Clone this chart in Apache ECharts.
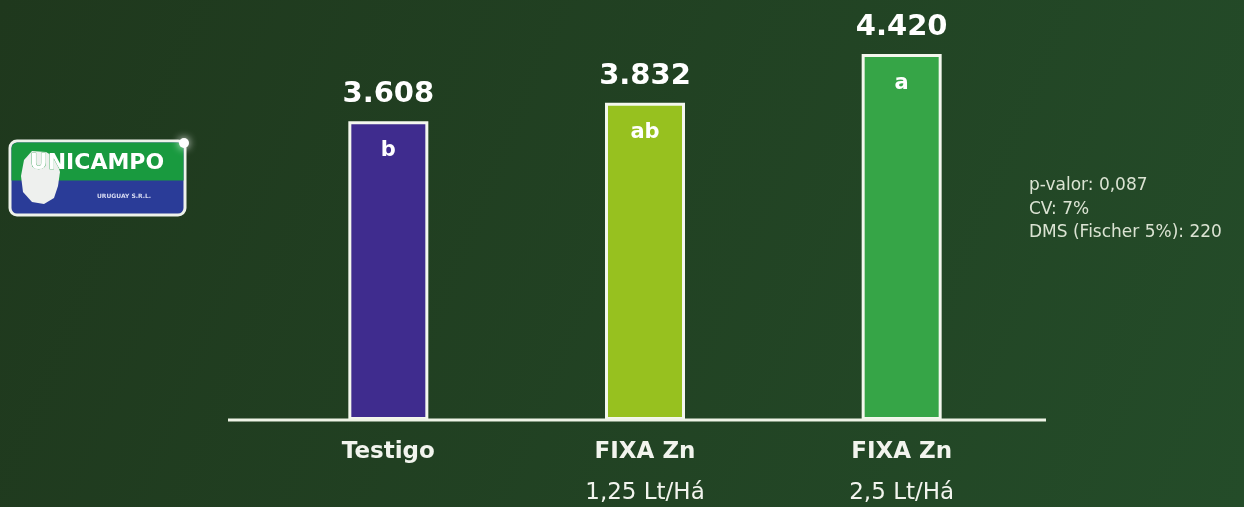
<!DOCTYPE html>
<html><head><meta charset="utf-8">
<script src="https://cdn.jsdelivr.net/npm/echarts@6/dist/echarts.min.js"></script>
<style>html,body{margin:0;padding:0;background:#1f3b1f;}#c{width:1244px;height:507px;}</style>
</head><body><div id="c"></div>
<script>
const categories = ['Testigo', 'FIXA Zn\n1,25 Lt/Há', 'FIXA Zn\n2,5 Lt/Há'];
const yields = [3608, 3832, 4420];
const letters = ['b', 'ab', 'a'];
const barColors = ['#3f2c8e', '#97c11f', '#36a547'];
const stats = ['p-valor: 0,087', 'CV: 7%', 'DMS (Fischer 5%): 220'];

const fmt = v => { const s = String(v); return s.length > 3 ? s.slice(0, s.length - 3) + '.' + s.slice(-3) : s; };
const chart = echarts.init(document.getElementById('c'), null, {renderer: 'canvas'});
chart.setOption({
  backgroundColor: {
    type: 'linear', x: 0, y: 0, x2: 1, y2: 1,
    colorStops: [{offset: 0, color: '#1f381d'}, {offset: 1, color: '#244c29'}]
  },
  animation: false,
  grid: {left: 260, right: 214, top: 6, bottom: 87, containLabel: false, outerBoundsMode: 'none'},
  xAxis: {
    type: 'category', data: categories,
    axisLine: {show: false}, axisTick: {show: false},
    axisLabel: {
      color: '#f2f4ee', fontFamily: 'DejaVu Sans', fontSize: 23, lineHeight: 41, margin: 12,
      formatter: v => { const p = v.split('\n'); return p.length > 1 ? '{b|' + p[0] + '}\n{n|' + p[1] + '}' : '{b|' + p[0] + '}'; },
      rich: {
        b: {fontFamily: 'DejaVu Sans', fontWeight: 'bold', fontSize: 23, color: '#f2f4ee', lineHeight: 41},
        n: {fontFamily: 'DejaVu Sans', fontWeight: 'normal', fontSize: 23, color: '#f2f4ee', lineHeight: 41}
      }
    }
  },
  yAxis: {type: 'value', min: 0, max: 5000, show: false, splitLine: {show: false}},
  series: [
    {
      type: 'bar', barWidth: 80,
      data: yields.map((v, i) => ({value: v, itemStyle: {color: barColors[i]}})),
      itemStyle: {borderColor: '#f4f7ee', borderWidth: 3},
      label: {
        show: true, position: 'top', distance: 12,
        color: '#ffffff', fontFamily: 'DejaVu Sans', fontWeight: 'bold', fontSize: 29,
        formatter: p => fmt(p.value)
      }
    },
    {
      type: 'bar', barWidth: 80, barGap: '-100%', z: 3,
      data: yields,
      itemStyle: {color: 'transparent'},
      label: {
        show: true, position: 'insideTop', distance: 19,
        color: '#ffffff', fontFamily: 'DejaVu Sans', fontWeight: 'bold', fontSize: 21,
        formatter: p => letters[p.dataIndex]
      },
      silent: true
    }
  ],
  graphic: [
    {type: 'rect', shape: {x: 228, y: 418.5, width: 818, height: 3}, style: {fill: '#eef3e6'}, z: 10},
    {type: 'rect', shape: {x: 10, y: 141, width: 175, height: 74, r: 7}, style: {fill: '#2a3c98', stroke: '#eef2ea', lineWidth: 3}, z: 1},
    {type: 'rect', shape: {x: 11.5, y: 142.5, width: 172, height: 38, r: [6, 6, 0, 0]}, style: {fill: '#199a3f'}, z: 2},
    {type: 'polygon', shape: {points: [[24,160],[32,151],[46,152],[56,158],[60,172],[58,186],[54,198],[44,204],[32,202],[23,192],[21,176]]}, style: {fill: '#eef0ee'}, z: 3},
    {type: 'text', style: {x: 97, y: 163, text: 'UNICAMPO', fill: '#ffffff', stroke: '#199a3f', lineWidth: 0.5, font: 'bold 22px "DejaVu Sans"', align: 'center', verticalAlign: 'middle'}, z: 4},
    {type: 'text', style: {x: 124, y: 196, text: 'URUGUAY S.R.L.', fill: '#d8dcf2', font: 'bold 6px "DejaVu Sans"', align: 'center', verticalAlign: 'middle'}, z: 4},
    {type: 'circle', shape: {cx: 184, cy: 143, r: 5}, style: {fill: '#ffffff', shadowBlur: 8, shadowColor: '#ffffff'}, z: 5},
    {type: 'text', style: {x: 1029, y: 174, text: stats.join('\n'), fill: '#dbe3d3', font: '17px "DejaVu Sans"', lineHeight: 23.5}}
  ]
});
</script></body></html>
